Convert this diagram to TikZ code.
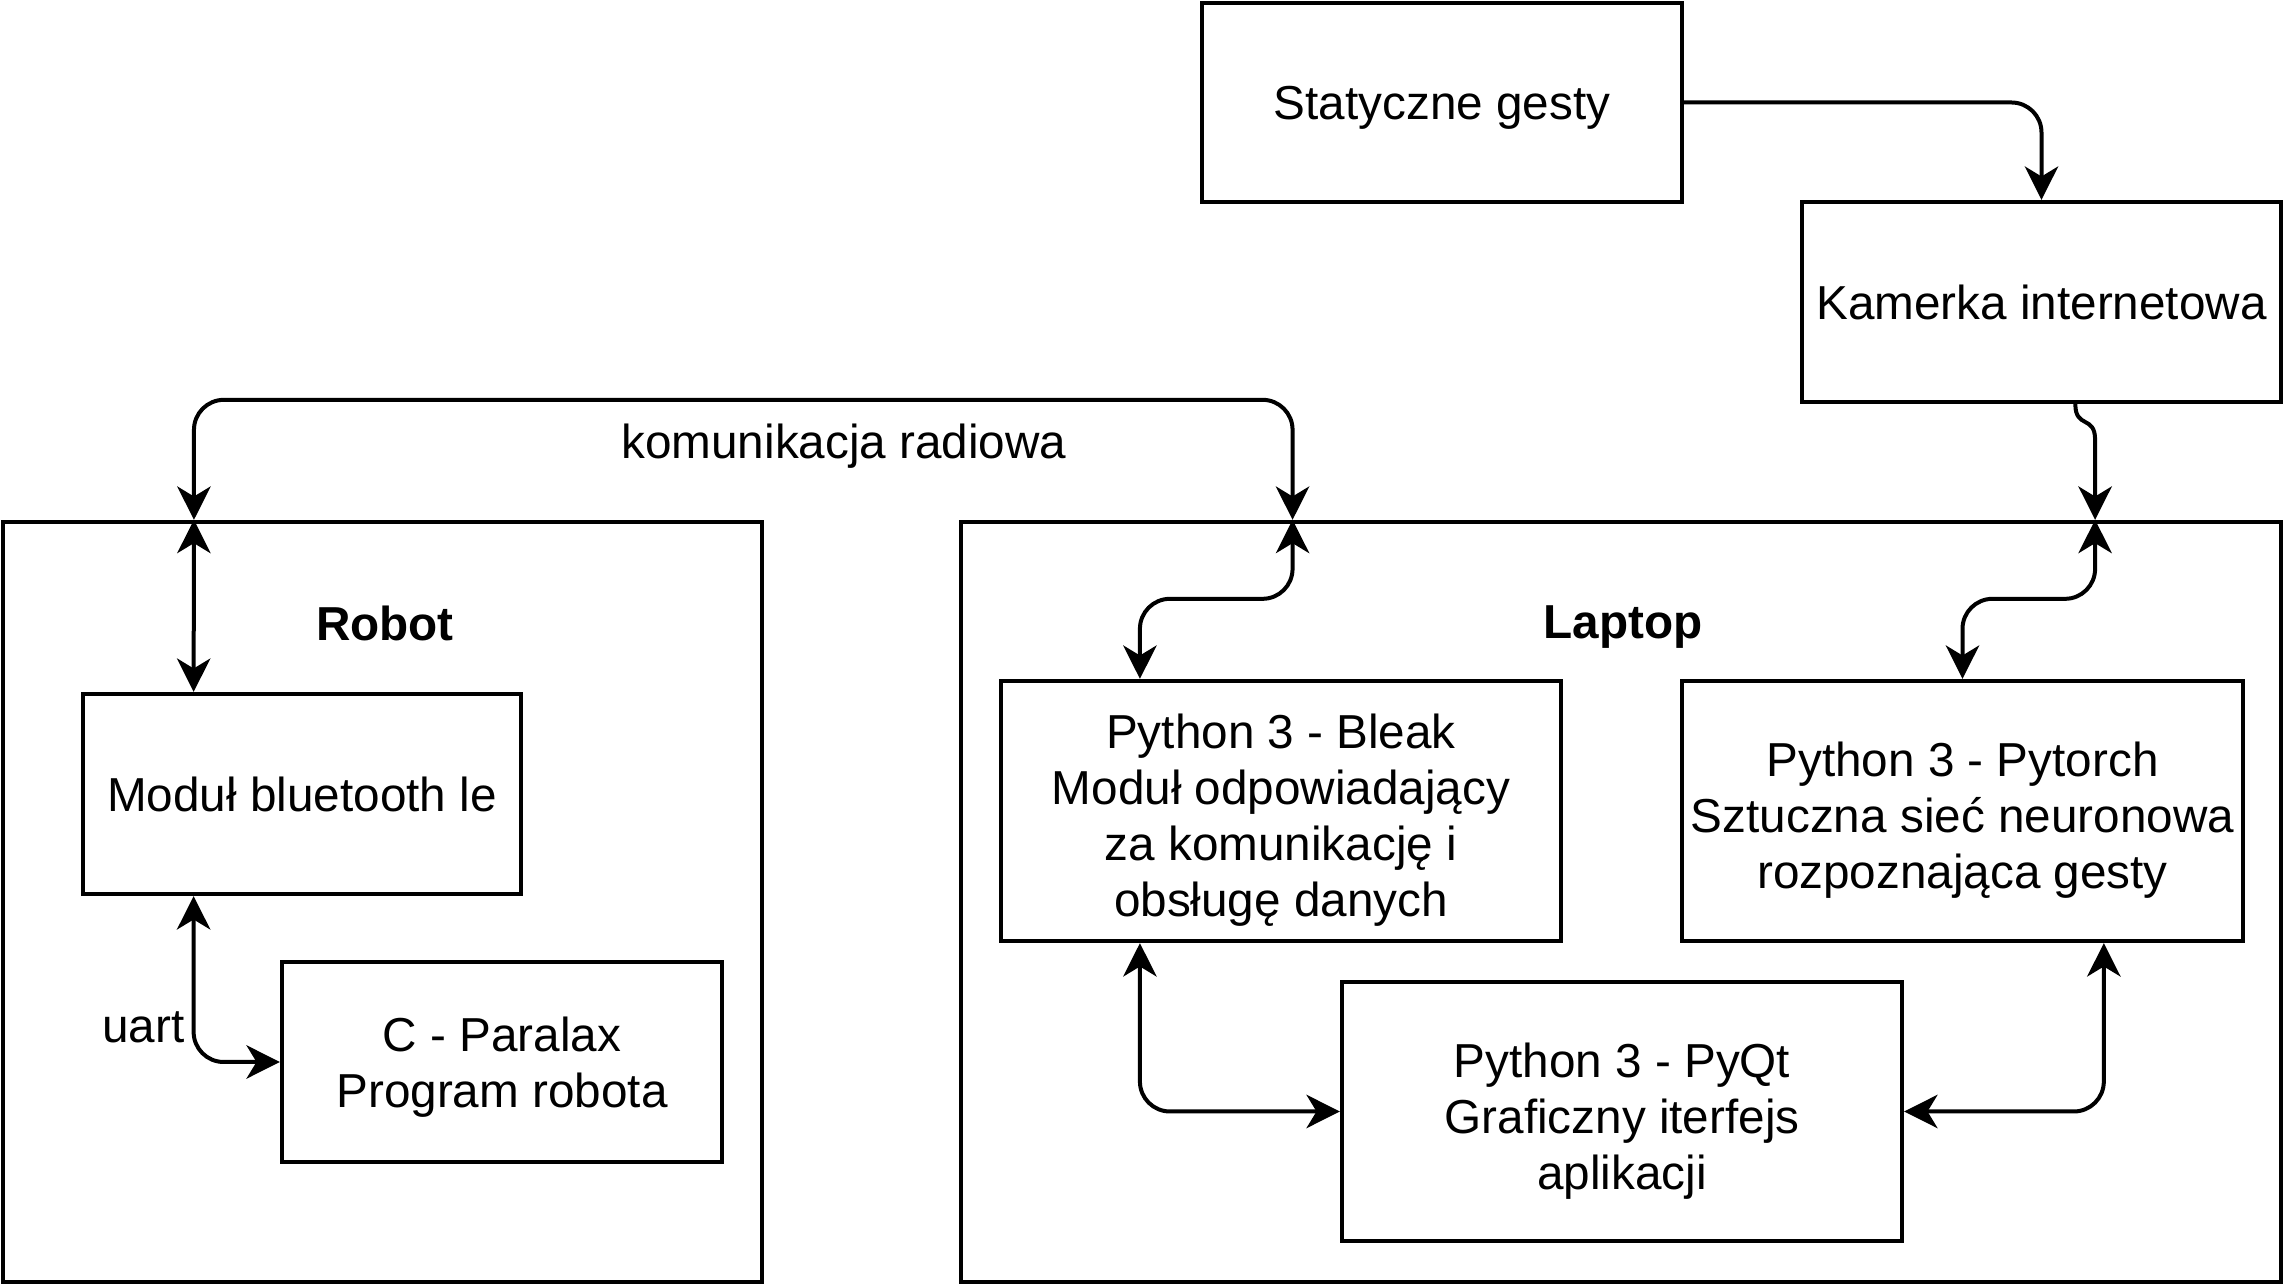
\documentclass[tikz,border=0pt]{standalone}
\usepackage{fontspec}
\setmainfont{Liberation Sans}
\usetikzlibrary{arrows.meta,calc}
\newcommand{\dgfont}{\fontsize{14.3}{16.8}\selectfont}
\newcommand{\topstrut}{\rule{0pt}{13.2pt}}
\begin{document}
\begin{tikzpicture}[x=0.3pt,y=-0.3pt,
  >={Stealth[length=10pt,width=10pt,inset=3pt]},
  box/.style={draw,line width=1.3pt,inner sep=0pt,align=center,font=\dgfont,text depth=0pt},
  conn/.style={line width=1.2pt,rounded corners=9pt},
  lbl/.style={inner sep=0pt,font=\dgfont}]
\useasboundingbox (0,0) rectangle (2284,1284);
\node[box,minimum width=227.7pt,minimum height=228pt] (robot) at (382.5,902) {};
\node[box,minimum width=396pt,minimum height=228pt] (laptop) at (1621,902) {};
\node[box,minimum width=144pt,minimum height=59.7pt] (stat) at (1442,102.5) {Statyczne gesty};
\node[box,minimum width=143.7pt,minimum height=60pt] (kam) at (2041.5,302) {Kamerka internetowa};
\node[box,minimum width=131.4pt,minimum height=60pt] (blue) at (302,794) {Moduł bluetooth le};
\node[box,minimum width=132pt,minimum height=60pt] (par) at (502,1062) {C - Paralax\\Program robota};
\node[box,minimum width=168pt,minimum height=78pt] (bleak) at (1281,811) {\topstrut Python 3 - Bleak\\Moduł odpowiadający\\za komunikację i\\obsługę danych};
\node[box,minimum width=168.3pt,minimum height=78pt] (torch) at (1962.5,811) {\topstrut Python 3 - Pytorch\\Sztuczna sieć neuronowa\\rozpoznająca gesty};
\node[box,minimum width=168pt,minimum height=77.7pt] (pyqt) at (1622,1111.5) {\topstrut Python 3 - PyQt\\Graficzny iterfejs\\aplikacji};
\node[lbl,font=\dgfont\bfseries] (rl) at (385,623) {Robot};
\node[lbl,font=\dgfont\bfseries] (ll) at (1623,627) {Laptop};
\node[lbl] (radio) at (844,446) {komunikacja radiowa};
\node[lbl,anchor=east] (uart) at (185,1027) {uart};
\coordinate (rt) at ($(robot.north west)!0.253!(robot.north east)$);
\coordinate (lt1) at ($(laptop.north west)!0.252!(laptop.north east)$);
\coordinate (lt2) at ($(laptop.north west)!0.858!(laptop.north east)$);
\coordinate (bt) at ($(blue.north west)!0.255!(blue.north east)$);
\coordinate (bb) at ($(blue.south west)!0.255!(blue.south east)$);
\coordinate (blt) at ($(bleak.north west)!0.25!(bleak.north east)$);
\coordinate (blb) at ($(bleak.south west)!0.25!(bleak.south east)$);
\coordinate (tob) at ($(torch.south west)!0.75!(torch.south east)$);
\coordinate (kb) at ($(kam.south west)!0.57!(kam.south east)$);
\draw[conn,<->] (rt) -- ++(0,-120) -| (lt1);
\draw[conn,<->] (rt) -- (bt);
\draw[conn,<->] (bb) |- (par.west);
\draw[conn,->] (stat.east) -| (kam.north);
\draw[line width=1.2pt,->] (kb) .. controls +(0,25) and +(0,-25) .. ($(lt2)+(0,-80)$) -- (lt2);
\draw[conn,<->] (blt) -- ++(0,-80) -| (lt1);
\draw[conn,<->] (torch.north) -- ++(0,-80) -| (lt2);
\draw[conn,<->] (blb) |- (pyqt.west);
\draw[conn,<->] (tob) |- (pyqt.east);
\end{tikzpicture}
\end{document}
